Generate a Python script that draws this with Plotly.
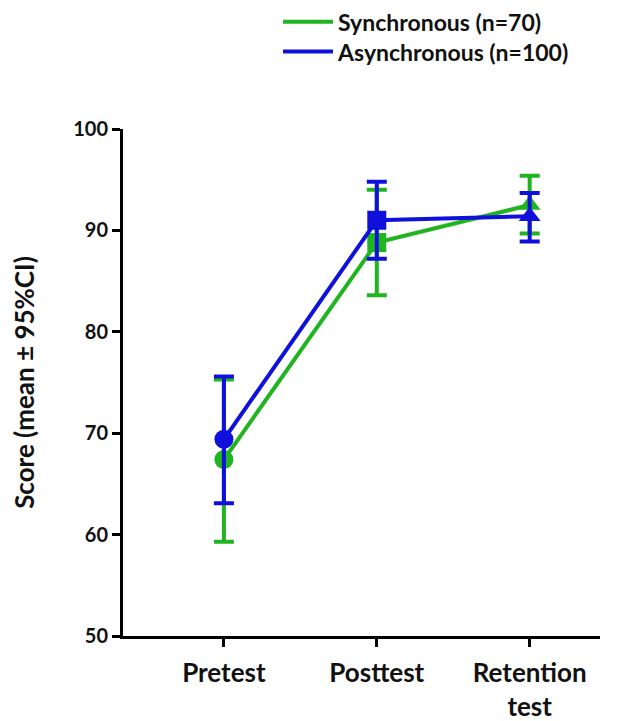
import plotly.graph_objects as go

categories = ["Pretest", "Posttest", "Retention<br>test"]
x_pos = [0, 1, 2]

sync_mean = [67.4, 88.8, 92.5]
sync_low = [59.3, 83.6, 89.7]
sync_high = [75.3, 94.0, 95.4]

async_mean = [69.4, 91.0, 91.4]
async_low = [63.1, 87.2, 88.9]
async_high = [75.6, 94.8, 93.7]

series_names = ["Synchronous (n=70)", "Asynchronous (n=100)"]
green = "#20b420"
blue = "#1010dc"
FONT = "Lato"

symbols = ["circle", "square", "triangle-up"]

fig = go.Figure()

def add_series(mean, low, high, color, name):
    fig.add_trace(go.Scatter(
        x=x_pos, y=mean, mode="lines+markers",
        line=dict(color=color, width=4),
        marker=dict(color=color, size=19, symbol=symbols, line=dict(width=0)),
        error_y=dict(type="data", symmetric=False,
                     array=[h - m for h, m in zip(high, mean)],
                     arrayminus=[m - l for m, l in zip(mean, low)],
                     color=color, thickness=4, width=10),
        showlegend=False, name=name,
    ))

add_series(sync_mean, sync_low, sync_high, green, series_names[0])
add_series(async_mean, async_low, async_high, blue, series_names[1])

for name, color, lg in zip(series_names, [green, blue], ["legend", "legend2"]):
    fig.add_trace(go.Scatter(x=[None], y=[None], mode="lines",
                             line=dict(color=color, width=4), name=name,
                             legend=lg, showlegend=True))

legend_style = dict(xanchor="left", yanchor="top",
                    font=dict(family=FONT, size=23, color="#111111", weight="bold"),
                    bgcolor="rgba(0,0,0,0)", itemwidth=50)

fig.update_layout(
    width=621, height=713,
    margin=dict(l=115, r=29, t=121, b=85, autoexpand=False),
    plot_bgcolor="white", paper_bgcolor="white",
    font=dict(family=FONT, color="#111111"),
    legend=dict(x=0.325, y=1.254, **legend_style),
    legend2=dict(x=0.325, y=1.195, **legend_style),
    xaxis=dict(range=[-0.66, 2.46], tickmode="array", tickvals=x_pos,
               ticktext=categories, showline=True, linecolor="black",
               linewidth=3, ticks="outside", ticklen=8, tickwidth=3,
               tickcolor="black", showgrid=False, zeroline=False,
               automargin=False, ticklabelstandoff=4,
               tickfont=dict(family=FONT, size=26, weight="bold", color="#111111")),
    yaxis=dict(range=[50, 100], tickvals=[50, 60, 70, 80, 90, 100],
               showline=True, linecolor="black", linewidth=3,
               ticks="outside", ticklen=8, tickwidth=3, tickcolor="black",
               showgrid=False, zeroline=False, automargin=False,
               tickfont=dict(family=FONT, size=20, weight="bold", color="#111111"),
               title=dict(text="Score (mean ± 95%CI)", standoff=38,
                          font=dict(family=FONT, size=26, weight="bold", color="#111111"))),
)

fig.write_html("out.html")
